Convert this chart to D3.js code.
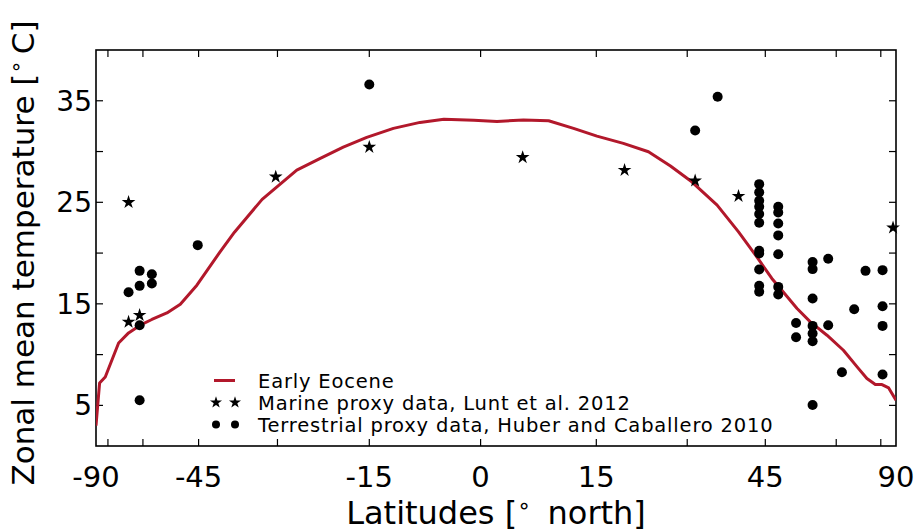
<!DOCTYPE html>
<html>
<head>
<meta charset="utf-8">
<script src="https://cdn.jsdelivr.net/npm/d3@7"></script>
<style>
  html, body { margin: 0; padding: 0; background: #fff; }
  svg { display: block; }
  text { font-family: "DejaVu Sans", sans-serif; fill: #000; }
</style>
</head>
<body>
<svg id="chart" width="920" height="531"></svg>
<script>
// Zonal mean temperature of the Early Eocene model run, with proxy data.
const latMajorTicks = [-90, -45, -15, 0, 15, 45, 90];
const latMinorTicks = [-75, -60, -30, 30, 60, 75];
const tempTicks = [5, 10, 15, 20, 25, 30, 35];
const tempLabelTicks = [5, 15, 25, 35];

// Model: Early Eocene zonal mean temperature (latitude in degrees north, °C)
const modelLat = [-90, -81.8, -76.8, -69.3, -65.1, -60.9, -57.2, -52.9, -49.4, -45.4,
  -40.6, -37.8, -32.7, -26.7, -22.8, -19.1, -15.4, -11.7, -8.1, -4.9, -0.9,
  2.1, 5.5, 8.75, 12.0, 15.1, 19.3, 23.4, 27.1, 30.8, 35.4, 39.5, 43.2,
  46.2, 47.8, 51.1, 53.9, 57.7, 61.9, 65.9, 69.2, 72.5, 75.6, 79.6, 90];
const modelTemp = [3.0, 7.2, 7.8, 11.15, 12.14, 12.9, 13.46, 14.11, 14.97, 16.84,
  20.12, 22.06, 25.29, 28.17, 29.33, 30.44, 31.4, 32.28, 32.87, 33.17, 33.07,
  32.97, 33.1, 33.03, 32.28, 31.52, 30.8, 29.98, 28.57, 27.02, 24.72, 22.09, 19.63,
  17.5, 16.51, 14.54, 13.22, 11.91, 10.43, 8.79, 7.64, 7.05, 7.05, 6.72, 5.5];

// Marine proxy data, Lunt et al. 2012
const marineLat = [-65.1, -65.1, -61.1, -30.3, -15.0, 5.4, 19.5, 31.4, 39.5, 83.4];
const marineTemp = [25.0, 13.22, 13.88, 27.51, 30.44, 29.43, 28.17, 27.12, 25.61, 22.49];

// Terrestrial proxy data, Huber and Caballero 2010
const terrLat = [-45.2, -61.1, -57.2, -61.1, -57.2, -65.1, -61.1, -61.1,
  -15.0, 31.4, 35.5,
  43.7, 43.7, 43.7, 43.7, 43.7, 43.7, 43.7, 43.7, 43.7, 43.7, 43.7,
  47.4, 47.4, 47.4, 47.4, 47.4, 47.4, 47.4,
  50.9, 50.9,
  54.4, 54.4, 54.4, 54.4, 54.4, 54.4, 54.4,
  58.0, 58.0, 61.5, 65.0, 68.7, 75.9, 75.9, 75.9, 75.9];
const terrTemp = [20.78, 18.25, 17.92, 16.77, 17.01, 16.15, 12.9, 5.5,
  36.6, 32.07, 35.4,
  26.79, 25.98, 25.15, 24.56, 23.84, 22.98, 20.22, 19.96, 18.39, 16.77, 16.2,
  24.56, 24.0, 22.92, 21.74, 19.89, 16.67, 15.92,
  13.12, 11.71,
  19.11, 18.42, 15.53, 12.83, 12.08, 11.32, 5.04,
  19.45, 12.9, 8.26, 14.47, 18.25, 18.32, 14.77, 12.83, 8.04];

const legendLabels = ["Early Eocene", "Marine proxy data, Lunt et al. 2012",
  "Terrestrial proxy data, Huber and Caballero 2010"];

const lineColor = "#b2182b";
const svg = d3.select("#chart");
const plot = { left: 96, right: 896, top: 50, bottom: 446 };
const W = plot.right - plot.left;

// Area-weighted latitude axis: positions follow sin(latitude) between labelled latitudes
const rad = d => Math.sin(d * Math.PI / 180);
const knotFrac = [0, 0.12825, 0.34163, 0.48075, 0.62538, 0.83663, 1];
const xs = d3.scaleLinear()
  .domain(latMajorTicks.map(rad))
  .range(knotFrac.map(f => plot.left + f * W));
const x = lat => xs(rad(lat));
const y = d3.scaleLinear().domain([1, 40]).range([plot.bottom, plot.top]);

// frame
svg.append("rect")
  .attr("x", plot.left).attr("y", plot.top)
  .attr("width", W).attr("height", plot.bottom - plot.top)
  .attr("fill", "none").attr("stroke", "#000").attr("stroke-width", 1.6);

const tickLen = 7;
const allLat = latMajorTicks.concat(latMinorTicks).filter(d => Math.abs(d) < 90);
const tickG = svg.append("g").attr("stroke", "#000").attr("stroke-width", 1.2);
allLat.forEach(d => {
  tickG.append("line").attr("x1", x(d)).attr("x2", x(d))
    .attr("y1", plot.bottom).attr("y2", plot.bottom - tickLen);
  tickG.append("line").attr("x1", x(d)).attr("x2", x(d))
    .attr("y1", plot.top).attr("y2", plot.top + tickLen);
});
tempTicks.forEach(d => {
  tickG.append("line").attr("x1", plot.left).attr("x2", plot.left + tickLen)
    .attr("y1", y(d)).attr("y2", y(d));
  tickG.append("line").attr("x1", plot.right).attr("x2", plot.right - tickLen)
    .attr("y1", y(d)).attr("y2", y(d));
});

// tick labels
svg.append("g").selectAll("text").data(latMajorTicks).join("text")
  .attr("x", d => x(d)).attr("y", 487)
  .attr("text-anchor", "middle").attr("font-size", 29)
  .text(d => d);
svg.append("g").selectAll("text").data(tempLabelTicks).join("text")
  .attr("x", 92).attr("y", d => y(d))
  .attr("dy", "0.36em")
  .attr("text-anchor", "end").attr("font-size", 28)
  .text(d => d);

// axis titles
const xl = svg.append("text").attr("x", 496).attr("y", 524)
  .attr("text-anchor", "middle").attr("font-size", 32);
xl.append("tspan").text("Latitudes [");
xl.append("tspan").attr("font-size", 22).attr("dy", -11).text("\u2218");
xl.append("tspan").attr("dy", 11).text("\u2009 north]");

const yl = svg.append("text")
  .attr("transform", "translate(34,253) rotate(-90)")
  .attr("text-anchor", "middle").attr("font-size", 31);
yl.append("tspan").text("Zonal mean temperature [");
yl.append("tspan").attr("font-size", 21).attr("dy", -11).text("\u2218");
yl.append("tspan").attr("dy", 11).text("\u2009C]");

// model line
svg.append("clipPath").attr("id", "pclip").append("rect")
  .attr("x", plot.left).attr("y", plot.top)
  .attr("width", W).attr("height", plot.bottom - plot.top);
svg.append("path")
  .datum(modelLat.map((d, i) => [d, modelTemp[i]]))
  .attr("clip-path", "url(#pclip)")
  .attr("fill", "none").attr("stroke", lineColor).attr("stroke-width", 3)
  .attr("stroke-linejoin", "round")
  .attr("d", d3.line().x(d => x(d[0])).y(d => y(d[1])));

const star = d3.symbol().type(d3.symbolStar).size(58);
svg.append("g").selectAll("path")
  .data(marineLat.map((d, i) => [d, marineTemp[i]])).join("path")
  .attr("transform", d => `translate(${x(d[0])},${y(d[1])})`)
  .attr("d", star).attr("fill", "#000");

svg.append("g").selectAll("circle")
  .data(terrLat.map((d, i) => [d, terrTemp[i]])).join("circle")
  .attr("cx", d => x(d[0])).attr("cy", d => y(d[1]))
  .attr("r", 5).attr("fill", "#000");

// legend
const lg = svg.append("g");
const rows = [380.5, 402.5, 424.5];
lg.append("line").attr("x1", 214).attr("x2", 235).attr("y1", rows[0]).attr("y2", rows[0])
  .attr("stroke", lineColor).attr("stroke-width", 3);
[216, 235].forEach(px => {
  lg.append("path").attr("transform", `translate(${px},${rows[1]})`)
    .attr("d", d3.symbol().type(d3.symbolStar).size(45)).attr("fill", "#000");
  lg.append("circle").attr("cx", px).attr("cy", rows[2]).attr("r", 4).attr("fill", "#000");
});
lg.selectAll("text").data(legendLabels).join("text")
  .attr("x", 258).attr("y", (d, i) => rows[i]).attr("dy", "0.36em")
  .attr("font-size", 19.5).attr("letter-spacing", 0.82).text(d => d);
</script>
</body>
</html>
